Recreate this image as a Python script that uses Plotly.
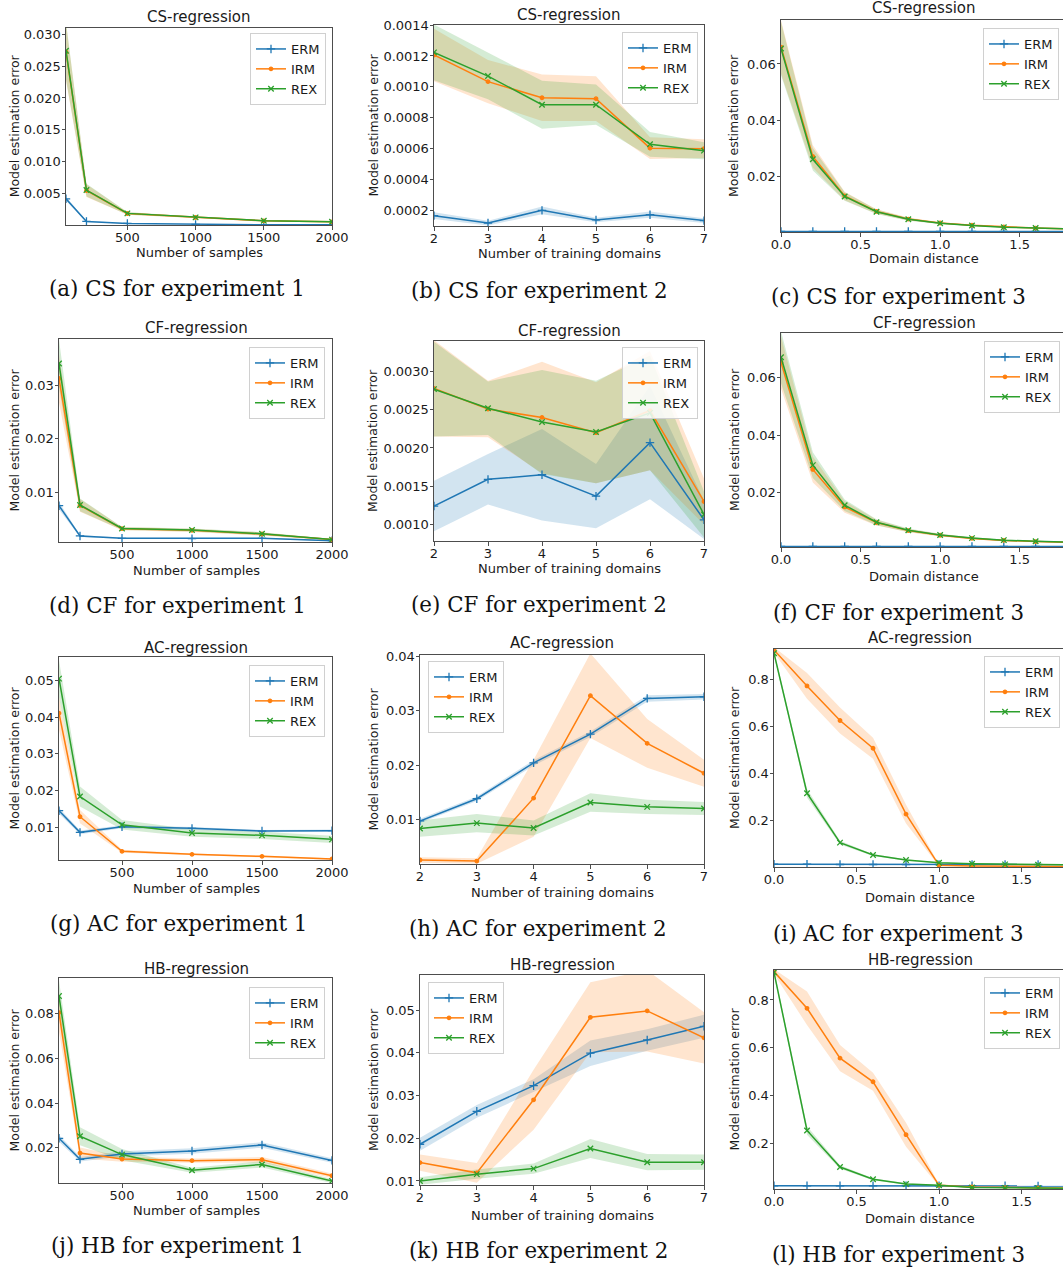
import plotly.graph_objects as go

# ---------------- data ----------------
series_names = ["ERM", "IRM", "REX"]
x_samples = [50, 200, 500, 1000, 1500, 2000]
x_domains = [2, 3, 4, 5, 6, 7]
x_distance = [0.0, 0.2, 0.4, 0.6, 0.8, 1.0, 1.2, 1.4, 1.6, 1.8]

# (a) CS, experiment 1
cs1_erm = [0.0042, 0.00066, 0.00034, 0.00019, 0.00014, 0.00012]
cs1_erm_err = [0.0003, 0.0001, 0.00005, 0.00003, 0.00003, 0.00002]
cs1_irm = [0.0272, 0.0055, 0.0019, 0.00128, 0.00076, 0.0006]
cs1_irm_err = [0.0045, 0.001, 0.0002, 0.0001, 0.00008, 0.00006]
cs1_rex = [0.0274, 0.00557, 0.00192, 0.00129, 0.00077, 0.00061]
cs1_rex_err = [0.0045, 0.001, 0.0002, 0.0001, 0.00008, 0.00006]

# (b) CS, experiment 2
cs2_erm = [0.000168, 0.00012, 0.000202, 0.00014, 0.000174, 0.000136]
cs2_erm_err = [0.000022, 0.000015, 0.000025, 0.000015, 0.00002, 0.000015]
cs2_irm = [0.001206, 0.001034, 0.00093, 0.000924, 0.000604, 0.000601]
cs2_irm_err = [0.00017, 0.00014, 0.00015, 0.000145, 0.00007, 0.00006]
cs2_rex = [0.001223, 0.00107, 0.000885, 0.000885, 0.000629, 0.000588]
cs2_rex_err = [0.00018, 0.00015, 0.000155, 0.00013, 0.00008, 0.000055]

# (c) CS, experiment 3
cs3_erm = [0.0006, 0.0006, 0.0006, 0.0006, 0.0006, 0.0006, 0.0006, 0.0006, 0.0006, 0.0006]
cs3_erm_err = [0.0001, 0.0001, 0.0001, 0.0001, 0.0001, 0.0001, 0.0001, 0.0001, 0.0001, 0.0001]
cs3_irm = [0.0660, 0.0272, 0.0132, 0.0077, 0.0050, 0.0036, 0.0028, 0.0022, 0.0018, 0.0015]
cs3_irm_err = [0.0095, 0.004, 0.0015, 0.0008, 0.0005, 0.0003, 0.0002, 0.0002, 0.0001, 0.0001]
cs3_rex = [0.0655, 0.0262, 0.0130, 0.0076, 0.0049, 0.0035, 0.0027, 0.0021, 0.0018, 0.0015]
cs3_rex_err = [0.0095, 0.004, 0.0015, 0.0008, 0.0005, 0.0003, 0.0002, 0.0002, 0.0001, 0.0001]

# (d) CF, experiment 1
cf1_erm = [0.00745, 0.00178, 0.00134, 0.00128, 0.00134, 0.0009]
cf1_erm_err = [0.0007, 0.0002, 0.0001, 0.0001, 0.0001, 0.0001]
cf1_irm = [0.0313, 0.0075, 0.00315, 0.00284, 0.00215, 0.0011]
cf1_irm_err = [0.0045, 0.0012, 0.0003, 0.0003, 0.0003, 0.0001]
cf1_rex = [0.0341, 0.0076, 0.00318, 0.0029, 0.0022, 0.0011]
cf1_rex_err = [0.0045, 0.0012, 0.0003, 0.0003, 0.0003, 0.0001]

# (e) CF, experiment 2
cf2_erm = [0.00124, 0.00159, 0.00165, 0.00137, 0.00207, 0.00106]
cf2_erm_err = [0.00033, 0.00033, 0.0006, 0.00042, 0.00074, 0.00025]
cf2_irm = [0.00278, 0.00251, 0.0024, 0.0022, 0.00249, 0.0013]
cf2_irm_err = [0.00063, 0.00037, 0.00073, 0.00066, 0.00078, 0.0003]
cf2_rex = [0.00277, 0.00252, 0.00234, 0.00221, 0.00246, 0.00113]
cf2_rex_err = [0.00062, 0.00035, 0.00068, 0.00067, 0.00075, 0.0003]

# (f) CF, experiment 3
cf3_erm = [0.0014, 0.0014, 0.0014, 0.0014, 0.0014, 0.0014, 0.0014, 0.0014, 0.0014, 0.0014]
cf3_erm_err = [0.0001, 0.0001, 0.0001, 0.0001, 0.0001, 0.0001, 0.0001, 0.0001, 0.0001, 0.0001]
cf3_irm = [0.0652, 0.0281, 0.0151, 0.0097, 0.0069, 0.0053, 0.0042, 0.0035, 0.0031, 0.0028]
cf3_irm_err = [0.009, 0.0045, 0.002, 0.001, 0.0006, 0.0004, 0.0003, 0.0002, 0.0002, 0.0002]
cf3_rex = [0.0670, 0.0296, 0.0157, 0.0098, 0.0070, 0.0054, 0.0043, 0.0036, 0.0032, 0.0029]
cf3_rex_err = [0.009, 0.0045, 0.002, 0.001, 0.0006, 0.0004, 0.0003, 0.0002, 0.0002, 0.0002]

# (g) AC, experiment 1
ac1_erm = [0.01454, 0.00864, 0.01018, 0.00973, 0.0090, 0.0091]
ac1_erm_err = [0.0008, 0.0005, 0.0004, 0.0004, 0.0003, 0.0003]
ac1_irm = [0.0411, 0.0129, 0.00347, 0.00265, 0.0021, 0.00138]
ac1_irm_err = [0.0045, 0.0018, 0.0004, 0.0002, 0.0002, 0.0002]
ac1_rex = [0.0505, 0.0184, 0.0107, 0.00846, 0.00782, 0.00673]
ac1_rex_err = [0.005, 0.0027, 0.0013, 0.001, 0.001, 0.001]

# (h) AC, experiment 2
ac2_erm = [0.0097, 0.0138, 0.0204, 0.0257, 0.0323, 0.0326]
ac2_erm_err = [0.0004, 0.0004, 0.0005, 0.0005, 0.0006, 0.0005]
ac2_irm = [0.0025, 0.0023, 0.0139, 0.0328, 0.0240, 0.0185]
ac2_irm_err = [0.0005, 0.0005, 0.0071, 0.0078, 0.0045, 0.0025]
ac2_rex = [0.0083, 0.0093, 0.0084, 0.0131, 0.0123, 0.0120]
ac2_rex_err = [0.0015, 0.0017, 0.0014, 0.0017, 0.0013, 0.0012]

# (i) AC, experiment 3
ac3_erm = [0.015, 0.015, 0.014, 0.014, 0.014, 0.014, 0.014, 0.014, 0.014, 0.014]
ac3_erm_err = [0.002, 0.002, 0.002, 0.002, 0.002, 0.002, 0.002, 0.002, 0.002, 0.002]
ac3_irm = [0.926, 0.773, 0.626, 0.508, 0.228, 0.0103, 0.008, 0.006, 0.005, 0.005]
ac3_irm_err = [0.012, 0.055, 0.055, 0.045, 0.04, 0.004, 0.002, 0.002, 0.001, 0.001]
ac3_rex = [0.912, 0.317, 0.107, 0.054, 0.033, 0.0216, 0.017, 0.0146, 0.013, 0.012]
ac3_rex_err = [0.01, 0.018, 0.008, 0.004, 0.003, 0.002, 0.001, 0.001, 0.001, 0.001]

# (j) HB, experiment 1
hb1_erm = [0.0242, 0.0148, 0.0172, 0.0185, 0.0212, 0.0143]
hb1_erm_err = [0.0015, 0.001, 0.0012, 0.0012, 0.0012, 0.001]
hb1_irm = [0.0805, 0.0176, 0.0149, 0.0142, 0.0146, 0.00746]
hb1_irm_err = [0.0085, 0.0025, 0.0012, 0.001, 0.0012, 0.001]
hb1_rex = [0.0879, 0.0251, 0.0169, 0.0099, 0.0125, 0.0051]
hb1_rex_err = [0.007, 0.004, 0.0025, 0.0011, 0.0014, 0.0009]

# (k) HB, experiment 2
hb2_erm = [0.0186, 0.0263, 0.0323, 0.0399, 0.0430, 0.0462]
hb2_erm_err = [0.0015, 0.0015, 0.0015, 0.003, 0.0025, 0.0027]
hb2_irm = [0.0143, 0.0119, 0.0290, 0.0483, 0.0498, 0.0435]
hb2_irm_err = [0.0019, 0.0023, 0.007, 0.0082, 0.0095, 0.006]
hb2_rex = [0.0100, 0.0116, 0.0129, 0.0176, 0.0144, 0.0144]
hb2_rex_err = [0.0009, 0.0011, 0.0012, 0.0022, 0.0019, 0.0018]

# (l) HB, experiment 3
hb3_erm = [0.021, 0.021, 0.021, 0.021, 0.021, 0.021, 0.021, 0.021, 0.020, 0.020]
hb3_erm_err = [0.002, 0.002, 0.002, 0.002, 0.002, 0.002, 0.002, 0.002, 0.002, 0.002]
hb3_irm = [0.919, 0.765, 0.556, 0.457, 0.235, 0.0228, 0.016, 0.013, 0.012, 0.012]
hb3_irm_err = [0.01, 0.07, 0.055, 0.038, 0.05, 0.004, 0.002, 0.002, 0.002, 0.002]
hb3_rex = [0.916, 0.253, 0.0995, 0.048, 0.0284, 0.0228, 0.014, 0.012, 0.011, 0.010]
hb3_rex_err = [0.01, 0.018, 0.007, 0.004, 0.003, 0.002, 0.001, 0.001, 0.001, 0.001]

# tick values
xt_samples = [500, 1000, 1500, 2000]
xt_domains = [2, 3, 4, 5, 6, 7]
xt_distance = [0.0, 0.5, 1.0, 1.5]
yt_a = [0.005, 0.010, 0.015, 0.020, 0.025, 0.030]
yt_b = [0.0002, 0.0004, 0.0006, 0.0008, 0.0010, 0.0012, 0.0014]
yt_c = [0.02, 0.04, 0.06]
yt_d = [0.01, 0.02, 0.03]
yt_e = [0.0010, 0.0015, 0.0020, 0.0025, 0.0030]
yt_f = [0.02, 0.04, 0.06]
yt_g = [0.01, 0.02, 0.03, 0.04, 0.05]
yt_h = [0.01, 0.02, 0.03, 0.04]
yt_i = [0.2, 0.4, 0.6, 0.8]
yt_j = [0.02, 0.04, 0.06, 0.08]
yt_k = [0.01, 0.02, 0.03, 0.04, 0.05]
yt_l = [0.2, 0.4, 0.6, 0.8]

# ---------------- styling / layout ----------------
W, H = 1063, 1270
COLORS = {"ERM": "#1f77b4", "IRM": "#ff7f0e", "REX": "#2ca02c"}
FILLS = {"ERM": "rgba(31,119,180,0.2)", "IRM": "rgba(255,127,14,0.2)", "REX": "rgba(44,160,44,0.2)"}
MARKERS = {"ERM": dict(symbol="cross-thin", size=6), "IRM": dict(symbol="circle", size=3.5),
           "REX": dict(symbol="x-thin", size=5.5)}
SANS = "DejaVu Sans"
SERIF = "DejaVu Serif"
TXT = "#1a1a1a"
SPINE = "#4d4d4d"

XT_S = "Number of samples"
XT_D = "Number of training domains"
XT_R = "Domain distance"

panels = [
    dict(t="CS-regression", cap="(a) CS for experiment 1", x=x_samples,
         m=[cs1_erm, cs1_irm, cs1_rex], e=[cs1_erm_err, cs1_irm_err, cs1_rex_err],
         xt=xt_samples, xfmt="d", yt=yt_a, yfmt=".3f", xr=[50, 2000], yr=[0.0001, 0.031],
         box=(66, 27.7, 332, 225), title_pos=(199, 17), cap_pos=(177, 288), xl=XT_S, xl_pos=(199, 252),
         yl_x=14, leg=("r", 326, 33), col=1),
    dict(t="CS-regression", cap="(b) CS for experiment 2", x=x_domains,
         m=[cs2_erm, cs2_irm, cs2_rex], e=[cs2_erm_err, cs2_irm_err, cs2_rex_err],
         xt=xt_domains, xfmt="d", yt=yt_b, yfmt=".4f", xr=[2, 7], yr=[0.000101, 0.0014],
         box=(434, 25, 704, 226), title_pos=(569, 15), cap_pos=(539, 290), xl=XT_D, xl_pos=(569, 254),
         yl_x=373, leg=("r", 698, 32), col=2),
    dict(t="CS-regression", cap="(c) CS for experiment 3", x=x_distance,
         m=[cs3_erm, cs3_irm, cs3_rex], e=[cs3_erm_err, cs3_irm_err, cs3_rex_err],
         xt=xt_distance, xfmt=".1f", yt=yt_c, yfmt=".2f", xr=[0, 1.772], yr=[0.0004, 0.0756],
         box=(781, 20, 1063, 232), title_pos=(924, 8), cap_pos=(898, 297), xl=XT_R, xl_pos=(924, 259),
         yl_x=734, leg=("r", 1059, 28), col=3),
    dict(t="CF-regression", cap="(d) CF for experiment 1", x=x_samples,
         m=[cf1_erm, cf1_irm, cf1_rex], e=[cf1_erm_err, cf1_irm_err, cf1_rex_err],
         xt=xt_samples, xfmt="d", yt=yt_d, yfmt=".2f", xr=[50, 2000], yr=[0.00065, 0.0387],
         box=(59, 339, 332, 542), title_pos=(196, 328), cap_pos=(177, 605), xl=XT_S, xl_pos=(196, 570),
         yl_x=14, leg=("r", 325, 347), col=1),
    dict(t="CF-regression", cap="(e) CF for experiment 2", x=x_domains,
         m=[cf2_erm, cf2_irm, cf2_rex], e=[cf2_erm_err, cf2_irm_err, cf2_rex_err],
         xt=xt_domains, xfmt="d", yt=yt_e, yfmt=".4f", xr=[2, 7], yr=[0.000783, 0.0034],
         box=(434, 341, 704, 541), title_pos=(569, 331), cap_pos=(539, 604), xl=XT_D, xl_pos=(569, 568),
         yl_x=373, leg=("r", 698, 347), col=2),
    dict(t="CF-regression", cap="(f) CF for experiment 3", x=x_distance,
         m=[cf3_erm, cf3_irm, cf3_rex], e=[cf3_erm_err, cf3_irm_err, cf3_rex_err],
         xt=xt_distance, xfmt=".1f", yt=yt_f, yfmt=".2f", xr=[0, 1.772], yr=[0.00122, 0.0754],
         box=(781, 333, 1063, 547), title_pos=(924, 323), cap_pos=(898, 612), xl=XT_R, xl_pos=(924, 576),
         yl_x=734, leg=("r", 1060, 341), col=3),
    dict(t="AC-regression", cap="(g) AC for experiment 1", x=x_samples,
         m=[ac1_erm, ac1_irm, ac1_rex], e=[ac1_erm_err, ac1_irm_err, ac1_rex_err],
         xt=xt_samples, xfmt="d", yt=yt_g, yfmt=".2f", xr=[50, 2000], yr=[0.00111, 0.0564],
         box=(59, 657, 332, 860), title_pos=(196, 648), cap_pos=(178, 923), xl=XT_S, xl_pos=(196, 888),
         yl_x=14, leg=("r", 325, 665), col=1),
    dict(t="AC-regression", cap="(h) AC for experiment 2", x=x_domains,
         m=[ac2_erm, ac2_irm, ac2_rex], e=[ac2_erm_err, ac2_irm_err, ac2_rex_err],
         xt=xt_domains, xfmt="d", yt=yt_h, yfmt=".2f", xr=[2, 7], yr=[0.00176, 0.0403],
         box=(420, 655, 704, 864), title_pos=(562, 643), cap_pos=(538, 928), xl=XT_D, xl_pos=(562, 892),
         yl_x=373, leg=("l", 428, 661), col=2),
    dict(t="AC-regression", cap="(i) AC for experiment 3", x=x_distance,
         m=[ac3_erm, ac3_irm, ac3_rex], e=[ac3_erm_err, ac3_irm_err, ac3_rex_err],
         xt=xt_distance, xfmt=".1f", yt=yt_i, yfmt=".1f", xr=[0, 1.751], yr=[0.0033, 0.930],
         box=(774, 649, 1063, 867), title_pos=(920, 638), cap_pos=(898, 933), xl=XT_R, xl_pos=(920, 897),
         yl_x=734, leg=("r", 1060, 656), col=3),
    dict(t="HB-regression", cap="(j) HB for experiment 1", x=x_samples,
         m=[hb1_erm, hb1_irm, hb1_rex], e=[hb1_erm_err, hb1_irm_err, hb1_rex_err],
         xt=xt_samples, xfmt="d", yt=yt_j, yfmt=".2f", xr=[50, 2000], yr=[0.00418, 0.096],
         box=(59, 978, 332, 1183), title_pos=(196, 969), cap_pos=(177, 1245), xl=XT_S, xl_pos=(196, 1210),
         yl_x=14, leg=("r", 325, 987), col=1),
    dict(t="HB-regression", cap="(k) HB for experiment 2", x=x_domains,
         m=[hb2_erm, hb2_irm, hb2_rex], e=[hb2_erm_err, hb2_irm_err, hb2_rex_err],
         xt=xt_domains, xfmt="d", yt=yt_k, yfmt=".2f", xr=[2, 7], yr=[0.00906, 0.0582],
         box=(420, 975, 704, 1185), title_pos=(562, 965), cap_pos=(538, 1250), xl=XT_D, xl_pos=(562, 1215),
         yl_x=373, leg=("l", 428, 982), col=2),
    dict(t="HB-regression", cap="(l) HB for experiment 3", x=x_distance,
         m=[hb3_erm, hb3_irm, hb3_rex], e=[hb3_erm_err, hb3_irm_err, hb3_rex_err],
         xt=xt_distance, xfmt=".1f", yt=yt_l, yfmt=".1f", xr=[0, 1.751], yr=[0.0074, 0.9256],
         box=(774, 970, 1063, 1189), title_pos=(920, 960), cap_pos=(898, 1254), xl=XT_R, xl_pos=(920, 1218),
         yl_x=734, leg=("r", 1060, 977), col=3),
]


def px(xp):
    return xp / W


def py(yp):
    return 1 - yp / H


fig = go.Figure()
annotations = []
layout_axes = {}

for i, p in enumerate(panels, start=1):
    sfx = "" if i == 1 else str(i)
    xa, ya = "x" + sfx, "y" + sfx
    legname = "legend" + sfx
    xs = p["x"]
    # bands first (under all lines)
    for name, m, e in zip(series_names, p["m"], p["e"]):
        hi = [a + b for a, b in zip(m, e)]
        lo = [a - b for a, b in zip(m, e)]
        fig.add_trace(go.Scatter(
            x=list(xs) + list(xs)[::-1], y=hi + lo[::-1], fill="toself",
            fillcolor=FILLS[name], line=dict(width=0), mode="lines",
            hoverinfo="skip", showlegend=False, xaxis=xa, yaxis=ya))
    # mean lines
    for name, m in zip(series_names, p["m"]):
        mk = MARKERS[name]
        fig.add_trace(go.Scatter(
            x=xs, y=m, name=name, mode="lines+markers",
            line=dict(color=COLORS[name], width=1.5),
            marker=dict(symbol=mk["symbol"], size=mk["size"], color=COLORS[name],
                        line=dict(color=COLORS[name], width=1.3)),
            xaxis=xa, yaxis=ya, legend=legname))

    x0, y0, x1, y1 = p["box"]
    common = dict(showline=True, linecolor=SPINE, linewidth=1, ticks="outside", ticklen=3.5,
                  tickcolor=SPINE, tickwidth=1, showgrid=False, zeroline=False, automargin=False,
                  tickfont=dict(family=SANS, size=13, color=TXT))
    layout_axes["xaxis" + sfx] = dict(common, domain=[px(x0), px(x1)], range=p["xr"],
                                      tickvals=p["xt"], tickformat=p["xfmt"], anchor=ya, mirror=True,
                                      ticklabelstandoff=-3)
    layout_axes["yaxis" + sfx] = dict(common, domain=[py(y1), py(y0)], range=p["yr"],
                                      tickvals=p["yt"], tickformat=p["yfmt"], anchor=xa,
                                      mirror=(p["col"] != 3), ticklabelstandoff=-2)

    side, lx, ly = p["leg"]
    layout_axes[legname] = dict(
        x=px(lx), y=py(ly), xanchor="right" if side == "r" else "left", yanchor="top",
        xref="paper", yref="paper",
        bgcolor="rgba(255,255,255,0.85)", bordercolor="#d0d0d0", borderwidth=1,
        font=dict(family=SANS, size=13, color=TXT), itemwidth=30, tracegroupgap=0)

    # panel title
    tx, ty = p["title_pos"]
    annotations.append(dict(text=p["t"], x=px(tx), y=py(ty), xref="paper", yref="paper",
                            xanchor="center", yanchor="middle", showarrow=False,
                            font=dict(family=SANS, size=15, color=TXT)))
    # x-axis title
    lx2, ly2 = p["xl_pos"]
    annotations.append(dict(text=p["xl"], x=px(lx2), y=py(ly2), xref="paper", yref="paper",
                            xanchor="center", yanchor="middle", showarrow=False,
                            font=dict(family=SANS, size=13, color=TXT)))
    # y-axis title
    annotations.append(dict(text="Model estimation error", x=px(p["yl_x"]), y=py((y0 + y1) / 2),
                            xref="paper", yref="paper", xanchor="center", yanchor="middle",
                            textangle=-90, showarrow=False,
                            font=dict(family=SANS, size=12.5, color=TXT)))
    # sub-figure caption
    cx, cy = p["cap_pos"]
    annotations.append(dict(text=p["cap"], x=px(cx), y=py(cy), xref="paper", yref="paper",
                            xanchor="center", yanchor="middle", showarrow=False,
                            font=dict(family=SERIF, size=21.4, color="#111")))

fig.update_layout(
    width=W, height=H, margin=dict(l=0, r=0, t=0, b=0, pad=0, autoexpand=False),
    paper_bgcolor="white", plot_bgcolor="white",
    annotations=annotations, **layout_axes)

fig.write_html("out.html", config={"displayModeBar": False},
               post_script="document.body.style.margin='0px';")
